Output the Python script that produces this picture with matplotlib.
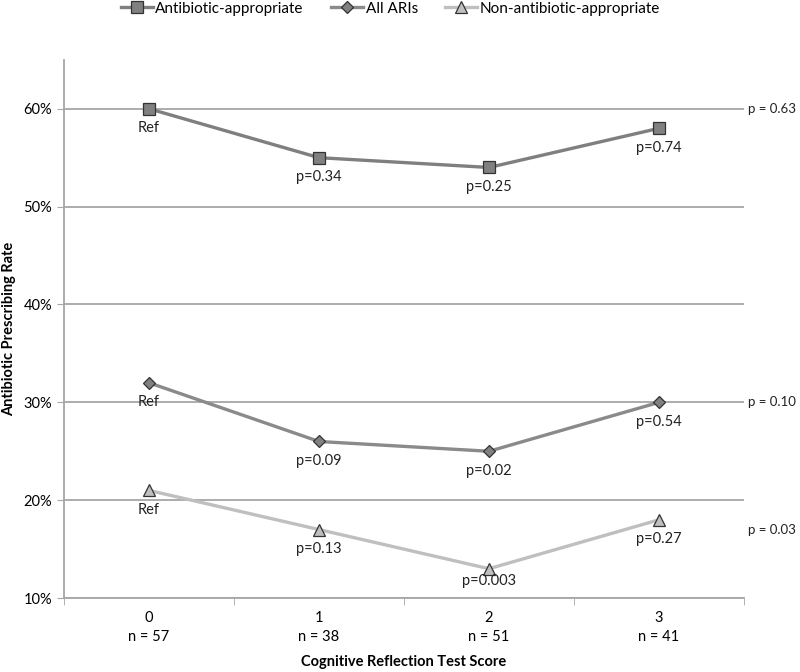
import numpy as np
import matplotlib.pyplot as plt
from matplotlib.ticker import FuncFormatter

plt.rcParams['font.family'] = ['Lato', 'DejaVu Sans']

scores = [0, 1, 2, 3]
n_labels = ['n = 57', 'n = 38', 'n = 51', 'n = 41']
abx_approp = [60, 55, 54, 58]
all_aris = [32, 26, 25, 30]
non_abx = [21, 17, 13, 18]
abx_lbl = ['Ref', 'p=0.34', 'p=0.25', 'p=0.74']
all_lbl = ['Ref', 'p=0.09', 'p=0.02', 'p=0.54']
non_lbl = ['Ref', 'p=0.13', 'p=0.003', 'p=0.27']
trend_p = ['p = 0.63', 'p = 0.10', 'p = 0.03']
trend_y = [60, 30, 17]

fig = plt.figure(figsize=(8, 6.72), dpi=100)
ax = fig.add_axes([0.08, 0.11, 0.85, 0.801])

series = [
    (abx_approp, abx_lbl, 'Antibiotic-appropriate', 's', '#7f7f7f', '#808080', 9),
    (all_aris, all_lbl, 'All ARIs', 'D', '#8a8a8a', '#808080', 6.5),
    (non_abx, non_lbl, 'Non-antibiotic-appropriate', '^', '#bfbfbf', '#bfbfbf', 9),
]
for vals, lbls, name, mk, lc, fc, ms in series:
    ax.plot(scores, vals, color=lc, lw=2.4, marker=mk, ms=ms,
            mfc=fc, mec='#333333', mew=0.9, label=name, zorder=3)
    for x, y, t in zip(scores, vals, lbls):
        off = -9 if t == 'p=0.003' else -14
        ax.annotate(t, (x, y), xytext=(0, off), textcoords='offset points',
                    ha='center', va='center', fontsize=10.5, color='#222222')

# overall trend p-values, right of the plot area
for t, y in zip(trend_p, trend_y):
    ax.text(1.006, (y - 10) / 55, t, transform=ax.transAxes, ha='left',
            va='center', fontsize=9.5, color='#222222')

ax.set_xlim(-0.5, 3.5)
ax.set_ylim(10, 65)
ax.set_yticks([10, 20, 30, 40, 50, 60])
ax.yaxis.set_major_formatter(FuncFormatter(lambda v, p: '%d%%' % v))
ax.grid(axis='y', color='#a6a6a6', lw=1.3)
ax.set_axisbelow(True)

ax.set_xticks(scores)
ax.set_xticklabels(['%d\n%s' % (s, n) for s, n in zip(scores, n_labels)],
                   fontsize=10.5, linespacing=1.5)
ax.set_xticks([-0.5, 0.5, 1.5, 2.5, 3.5], minor=True)
ax.tick_params(axis='x', which='major', length=0, pad=9)
ax.tick_params(axis='x', which='minor', length=5, color='#a6a6a6')
ax.tick_params(axis='y', length=5, color='#a6a6a6', labelsize=10.5)

for s in ['top', 'right']:
    ax.spines[s].set_visible(False)
for s in ['left', 'bottom']:
    ax.spines[s].set_color('#a6a6a6')
    ax.spines[s].set_linewidth(1.3)

ax.set_ylabel('Antibiotic Prescribing Rate', fontsize=10.5, fontweight='bold')
ax.yaxis.set_label_coords(-0.07, 0.5)
ax.set_xlabel('Cognitive Reflection Test Score', fontsize=10.5, fontweight='bold', labelpad=8)

ax.legend(loc='upper center', bbox_to_anchor=(0.488, 1.0), bbox_transform=fig.transFigure,
          ncol=3, frameon=False, fontsize=11, handlelength=2.1, columnspacing=1.8,
          handletextpad=0.15, borderpad=0.1, borderaxespad=0)

fig.savefig('out.png', dpi=100)
